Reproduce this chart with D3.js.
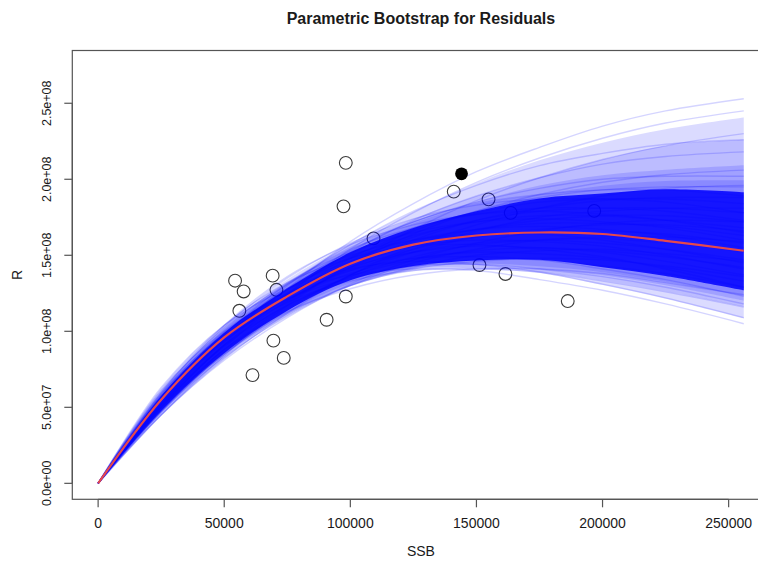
<!DOCTYPE html>
<html>
<head>
<meta charset="utf-8">
<script src="https://cdn.jsdelivr.net/npm/d3@7/dist/d3.min.js"></script>
<style>
body { margin: 0; background: #fff; }
text { font-family: "Liberation Sans", Arial, sans-serif; fill: #1a1a1a; }
</style>
</head>
<body>
<div id="chart"></div>
<script>
// SSB knots where curves were read (values of R in millions)
var ssbKnots = [0, 25000, 50000, 75000, 100000, 125000, 150000, 175000, 200000, 225000, 256000];

// fitted Ricker curve (red)
var fitR = [0, 55, 96, 123, 144.5, 157, 163, 165, 164, 159.5, 153];

// bootstrap curves
var bootR = [
  [0,61,100,124,137,141,140,134,127,118,105],
  [0,63,104,128,141,146,144,139,131,122,109],
  [0,56,94,119,133,140,141,139,133,126,116],
  [0,57,96,121,135,143,144,141,136,129,118],
  [0,59,99,125,140,148,149,147,141,134,123],
  [0,62,104,132,148,156,157,154,149,141,129],
  [0,51,88,113,128,137,141,141,138,132,124],
  [0,53,91,117,134,143,147,147,143,138,129],
  [0,55,94,121,138,148,152,151,148,142,133],
  [0,57,97,124,142,152,156,155,152,146,137],
  [0,58,99,128,146,156,160,159,156,150,141],
  [0,60,102,131,150,160,164,164,160,154,145],
  [0,50,86,112,130,141,146,148,147,143,136],
  [0,52,90,117,136,147,153,155,153,149,142],
  [0,54,93,121,140,152,158,160,158,154,147],
  [0,55,96,125,144,156,163,165,163,159,152],
  [0,57,98,128,148,160,167,169,167,163,155],
  [0,58,101,132,152,165,172,174,172,168,160],
  [0,60,104,136,157,170,177,179,177,173,165],
  [0,48,85,111,130,142,150,153,154,151,146],
  [0,50,88,116,136,149,157,160,161,158,153],
  [0,52,91,120,141,154,162,166,166,164,158],
  [0,54,94,124,145,159,167,171,171,169,163],
  [0,55,97,127,149,163,172,176,176,173,168],
  [0,57,100,131,154,168,177,181,181,179,173],
  [0,59,103,135,158,174,183,187,187,185,178],
  [0,47,83,110,130,145,154,160,162,162,159],
  [0,49,87,115,137,152,162,167,170,170,166],
  [0,51,90,120,142,157,167,173,176,176,172],
  [0,52,93,123,146,162,173,179,181,181,178],
  [0,54,96,128,151,168,178,185,187,187,184],
  [0,55,98,131,155,172,184,190,193,193,189],
  [0,45,81,109,131,147,158,166,171,173,172],
  [0,47,85,114,137,154,166,175,179,181,181],
  [0,49,88,119,142,160,173,181,186,188,188],
  [0,51,91,123,148,166,179,188,193,195,195],
  [0,53,95,128,153,172,185,194,200,202,202],
  [0,45,82,112,137,156,170,181,189,194,196],
  [0,47,86,118,144,164,179,190,198,203,206],
  [0,50,91,125,152,173,189,201,210,215,218],
  [0,52,95,130,157,179,196,209,217,223,226],
  [0,45,84,117,144,167,186,201,213,222,230],
  [0,48,89,124,154,178,198,214,227,237,245],
  [0,50,92,128,159,184,205,221,235,245,253]
];

// observed stock-recruitment pairs
var obsSSB = [54300, 57700, 56000, 69200, 70700, 69500, 73600, 61200, 90600, 98200,
              97300, 98200, 109200, 141000, 154800, 163600, 151200, 161500, 186200, 196700];
var obsR = [133.3, 126.2, 113.5, 136.6, 127.3, 93.9, 82.5, 71.2, 107.6, 122.9,
            182.2, 210.8, 161.1, 191.9, 186.8, 177.9, 143.6, 137.7, 119.9, 179.2];
// most recent year (filled)
var lastSSB = [144100];
var lastR = [203.6];

var xTicks = [0, 50000, 100000, 150000, 200000, 250000];
var yTicks = [0, 50, 100, 150, 200, 250];
var yTickLabels = ["0.0e+00", "5.0e+07", "1.0e+08", "1.5e+08", "2.0e+08", "2.5e+08"];

// quantile shells of the bootstrap band, outer to inner
var shellLo = [0.02, 0.05, 0.08, 0.10];
var shellHi = [0.97, 0.93, 0.89, 0.85];

var W = 758, H = 563;
var svg = d3.select("#chart").append("svg")
  .attr("width", W).attr("height", H);

var mLeft = 72.3, mRight = 769.6, mTop = 50.5, mBottom = 499.3;

var x = d3.scaleLinear().domain([-10240, 266240]).range([mLeft, mRight]);
var y = d3.scaleLinear().domain([-10.5, 284.7]).range([mBottom, mTop]);

var smooth = d3.curveCatmullRom.alpha(0.5);

var line = d3.line()
  .x(function (d, i) { return x(ssbKnots[i]); })
  .y(function (d) { return y(d); })
  .curve(smooth);

function band(lo, hi) {
  var pts = ssbKnots.map(function (s, i) {
    var col = bootR.map(function (c) { return c[i]; }).sort(d3.ascending);
    return { s: s, lo: d3.quantile(col, lo), hi: d3.quantile(col, hi) };
  });
  return d3.area()
    .x(function (d) { return x(d.s); })
    .y0(function (d) { return y(d.lo); })
    .y1(function (d) { return y(d.hi); })
    .curve(smooth)(pts);
}

var plot = svg.append("g");

// open points first, curves are drawn over them
plot.selectAll("circle.obs")
  .data(obsSSB)
  .enter().append("circle")
  .attr("class", "obs")
  .attr("cx", function (d) { return x(d); })
  .attr("cy", function (d, i) { return y(obsR[i]); })
  .attr("r", 6.4)
  .attr("fill", "none")
  .attr("stroke", "#3a3a3a")
  .attr("stroke-width", 1.1);

plot.selectAll("path.shell")
  .data(shellLo)
  .enter().append("path")
  .attr("class", "shell")
  .attr("d", function (d, i) { return band(d, shellHi[i]); })
  .attr("fill", "#0000ff")
  .attr("opacity", 0.14);

plot.selectAll("path.boot")
  .data(bootR)
  .enter().append("path")
  .attr("class", "boot")
  .attr("d", line)
  .attr("fill", "none")
  .attr("stroke", "#0000ff")
  .attr("stroke-opacity", 0.17)
  .attr("stroke-width", 1.4);

plot.append("path")
  .attr("d", band(0.13, 0.8))
  .attr("fill", "#0000ff")
  .attr("opacity", 0.85);

plot.append("path")
  .attr("d", line(fitR))
  .attr("fill", "none")
  .attr("stroke", "#E5484D")
  .attr("stroke-width", 2.2);

plot.selectAll("circle.last")
  .data(lastSSB)
  .enter().append("circle")
  .attr("class", "last")
  .attr("cx", function (d) { return x(d); })
  .attr("cy", function (d, i) { return y(lastR[i]); })
  .attr("r", 6.4)
  .attr("fill", "#000");

// box
svg.append("rect")
  .attr("x", mLeft).attr("y", mTop)
  .attr("width", mRight - mLeft).attr("height", mBottom - mTop)
  .attr("fill", "none").attr("stroke", "#555").attr("stroke-width", 1.2);

// axes, R style
var xAxis = svg.append("g").attr("transform", "translate(0," + mBottom + ")");
xAxis.append("line")
  .attr("x1", x(0)).attr("x2", x(250000))
  .attr("stroke", "#555").attr("stroke-width", 1.2);
xAxis.selectAll("line.tick").data(xTicks).enter().append("line")
  .attr("x1", x).attr("x2", x).attr("y1", 0).attr("y2", 8)
  .attr("stroke", "#555").attr("stroke-width", 1.2);
xAxis.selectAll("text").data(xTicks).enter().append("text")
  .attr("x", x).attr("y", 29)
  .attr("text-anchor", "middle")
  .style("font-size", "14px")
  .text(function (d) { return d; });

var yAxis = svg.append("g").attr("transform", "translate(" + mLeft + ",0)");
yAxis.append("line")
  .attr("y1", y(0)).attr("y2", y(250))
  .attr("stroke", "#555").attr("stroke-width", 1.2);
yAxis.selectAll("line.tick").data(yTicks).enter().append("line")
  .attr("y1", y).attr("y2", y).attr("x1", 0).attr("x2", -8)
  .attr("stroke", "#555").attr("stroke-width", 1.2);
yAxis.selectAll("text").data(yTicks).enter().append("text")
  .attr("transform", function (d) { return "translate(-21," + y(d) + ") rotate(-90)"; })
  .attr("text-anchor", "middle")
  .style("font-size", "12.5px")
  .text(function (d, i) { return yTickLabels[i]; });

svg.append("text")
  .attr("x", (mLeft + mRight) / 2).attr("y", 24)
  .attr("text-anchor", "middle")
  .style("font-size", "16px").style("font-weight", "bold")
  .text("Parametric Bootstrap for Residuals");

svg.append("text")
  .attr("x", (mLeft + mRight) / 2).attr("y", 556)
  .attr("text-anchor", "middle")
  .style("font-size", "14px")
  .text("SSB");

svg.append("text")
  .attr("transform", "translate(22," + (mTop + mBottom) / 2 + ") rotate(-90)")
  .attr("text-anchor", "middle")
  .style("font-size", "14px")
  .text("R");
</script>
</body>
</html>
